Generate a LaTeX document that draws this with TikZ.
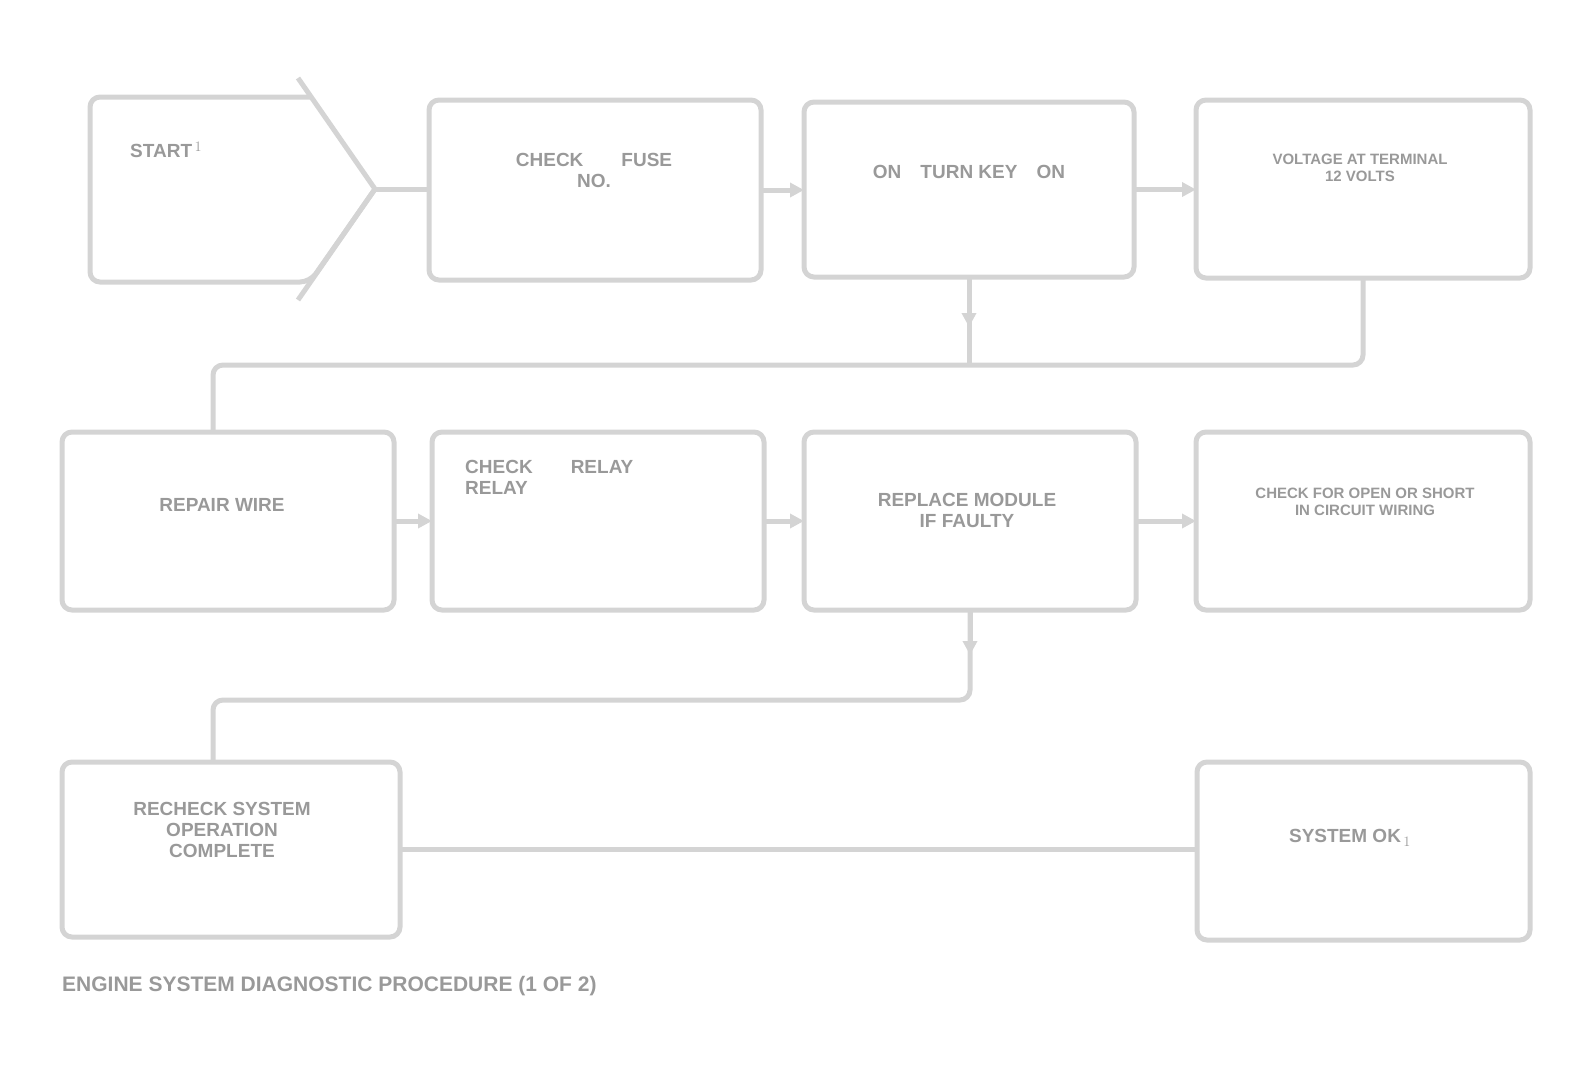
\documentclass[tikz,border=0pt]{standalone}
\usepackage{fontspec}
\setmainfont{Liberation Sans}
\usetikzlibrary{arrows.meta}
\tikzset{
  x=1pt,y=-1pt,
  boxline/.style={draw=black!17,line width=5pt,rounded corners=10pt},
  stepbox/.style={boxline,rectangle,anchor=north west,inner sep=0pt,outer sep=0pt},
  wire/.style={draw=black!17,line width=5pt},
  lbl/.style={text=black!40,font=\bfseries\fontsize{19}{21}\selectfont,align=center,inner sep=0pt},
  small/.style={font=\bfseries\fontsize{15}{17}\selectfont},
  tip/.style={-{Triangle[length=14pt,width=14pt]}},
}
\begin{document}
\begin{tikzpicture}
\useasboundingbox (0,0) rectangle (1581,1080);
% row 1
\draw[boxline] (310,97) -- (90,97) -- (90,282) -- (310,282) -- (375,189);
\draw[wire] (298,78) -- (375,189) -- (298,300);
\coordinate (B1) at (375,189);
\node[stepbox,minimum width=332pt,minimum height=180pt] (B2) at (429,100) {};
\node[stepbox,minimum width=330pt,minimum height=175pt] (B3) at (804,102) {};
\node[stepbox,minimum width=334pt,minimum height=178pt] (B4) at (1196,100) {};
% row 2
\node[stepbox,minimum width=332pt,minimum height=178pt] (B5) at (62,432) {};
\node[stepbox,minimum width=332pt,minimum height=178pt] (B6) at (432,432) {};
\node[stepbox,minimum width=332pt,minimum height=178pt] (B7) at (804,432) {};
\node[stepbox,minimum width=334pt,minimum height=178pt] (B8) at (1196,432) {};
% row 3
\node[stepbox,minimum width=338pt,minimum height=175pt] (B9) at (62,762) {};
\node[stepbox,minimum width=333pt,minimum height=178pt] (B10) at (1197,762) {};
% labels
\node[lbl,anchor=west] (t1) at (130,150) {START$^{\,1}$};
\node[lbl] (t2) at (594,170) {CHECK\qquad FUSE\\ NO.};
\node[lbl] (t3) at (969,172) {ON\quad TURN KEY\quad ON};
\node[lbl,small] (t4) at (1360,168) {VOLTAGE AT TERMINAL\\ 12 VOLTS};
\node[lbl] (t5) at (222,505) {REPAIR WIRE};
\node[lbl,anchor=north west,align=left] (t6) at (465,460) {CHECK\qquad RELAY\\ RELAY};
\node[lbl] (t7) at (967,510) {REPLACE MODULE\\ IF FAULTY};
\node[lbl,small] (t8) at (1365,502) {CHECK FOR OPEN OR SHORT\\ IN CIRCUIT WIRING};
\node[lbl] (t9) at (222,830) {RECHECK SYSTEM\\ OPERATION\\ COMPLETE};
\node[lbl] (t10) at (1350,838) {SYSTEM OK$_{\,1}$};
\node[lbl,anchor=west,font=\bfseries\fontsize{21}{23}\selectfont] (cap) at (62,986) {ENGINE SYSTEM DIAGNOSTIC PROCEDURE (1 OF 2)};
% connectors
\coordinate (c210) at (213,0);
\coordinate (y365) at (0,365);
\coordinate (y700) at (0,700);
\coordinate (j1) at (B3.south |- y365);
\coordinate (j2) at (B7.south |- y700);
\draw[wire] (B1) -- (B1 -| B2.west);
\draw[wire,tip] (B2.east) -- (B2.east -| B3.west);
\draw[wire,tip] (B3.east) -- (B3.east -| B4.west);
\draw[wire,tip] (B3.south) -- ++(0,50);
\draw[wire] (B3.south) -- (j1);
\draw[wire,rounded corners=10pt] (B4.south) |- (j1) -| (c210 |- B5.north);
\draw[wire,tip] (B5.east) -- (B5.east -| B6.west);
\draw[wire,tip] (B6.east) -- (B6.east -| B7.west);
\draw[wire,tip] (B7.east) -- (B7.east -| B8.west);
\draw[wire,tip] (B7.south) -- ++(0,45);
\draw[wire,rounded corners=10pt] (B7.south) -- (j2) -- (c210 |- j2) -- (c210 |- B9.north);
\draw[wire] (B9.east) -- (B9.east -| B10.west);
\end{tikzpicture}
\end{document}
